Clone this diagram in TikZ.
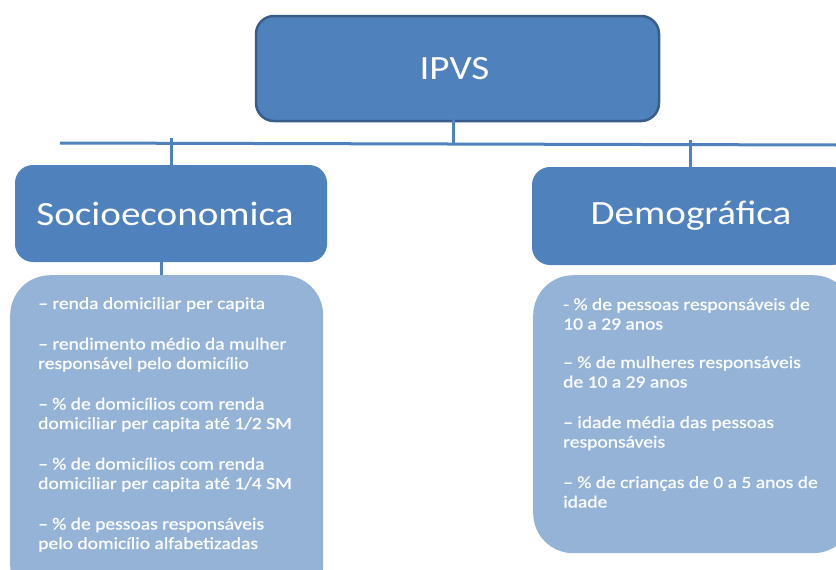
\documentclass[tikz,border=0pt]{standalone}
\usepackage{fontspec}
\setmainfont{Carlito}[FakeStretch=1.15]
\usetikzlibrary{positioning}
\definecolor{boxblue}{RGB}{79,129,189}
\definecolor{edgeblue}{RGB}{56,93,138}
\definecolor{listblue}{RGB}{149,179,215}
\tikzset{
  head/.style={fill=boxblue, rounded corners=18pt, inner sep=0pt, text=white,
    font=\fontsize{34}{40}\selectfont},
  listbox/.style={fill=listblue, rounded corners=40pt, inner sep=0pt, anchor=north west},
  listtext/.style={text=white!96!listblue, align=left, inner sep=0pt, anchor=north west,
    font=\fontsize{17}{19.5}\selectfont\addfontfeature{FakeBold=1}},
  wire/.style={draw=boxblue, line width=3pt},
}

\begin{document}
\begin{tikzpicture}[x=1pt, y=-1pt]
  % --- page frame ---
  \useasboundingbox (0,0) rectangle (836,570);
  \clip (0,0) rectangle (836,570);

  % --- lists (drawn first, under the headers) ---
  \node[listbox, minimum width=313pt, minimum height=330pt] (socioList) at (10,275) {};
  \node[listbox, minimum width=320pt, minimum height=278pt] (demoList) at (533,275) {};

  % --- headers ---
  \node[head, draw=edgeblue, line width=2.5pt, minimum width=403pt, minimum height=105pt]
    (ipvs) at (457.5,68.5) {IPVS\hspace*{6pt}};
  \node[head, minimum width=312pt, minimum height=97pt] (socio) at (171,213.5)
    {Socioeconomica\hspace*{12pt}};
  \node[head, minimum width=318pt, minimum height=98pt] (demo) at (691,216) {Demográfica};

  % --- tree connectors ---
  \coordinate (busL) at (60,143);
  \coordinate (busR) at (836,145);
  \coordinate (hub) at (453,144);
  \coordinate (tickL) at (171,138);
  \coordinate (tickR) at (690,140);
  \coordinate (stem) at ([xshift=-10pt]socio.south);
  \draw[wire] (busL) -- (busR);
  \draw[wire] ([xshift=-4.5pt,yshift=29pt]ipvs.south) -- (hub);
  \draw[wire] (tickL) -- (socio.north);
  \draw[wire] (tickR) -- (tickR |- demo.north);
  \draw[wire] ([yshift=12pt]stem) -- (stem |- socioList.north);

  % --- list texts ---
  \node[listtext] (socioItems) at (38,297)
    {– renda domiciliar per capita\\[21pt]
     – rendimento médio da mulher\\ responsável pelo domicílio\\[21pt]
     – \% de domicílios com renda\\ domiciliar per capita até 1/2 SM\\[21pt]
     – \% de domicílios com renda\\ domiciliar per capita até 1/4 SM\\[21pt]
     – \% de pessoas responsáveis\\ pelo domicílio alfabetizadas};
  \node[listtext] (demoItems) at (563,298)
    {- \% de pessoas responsáveis de\\ 10 a 29 anos\\[19pt]
     – \% de mulheres responsáveis\\ de 10 a 29 anos\\[21pt]
     – idade média das pessoas\\ responsáveis\\[21pt]
     – \% de crianças de 0 a 5 anos de\\ idade};
\end{tikzpicture}
\end{document}
